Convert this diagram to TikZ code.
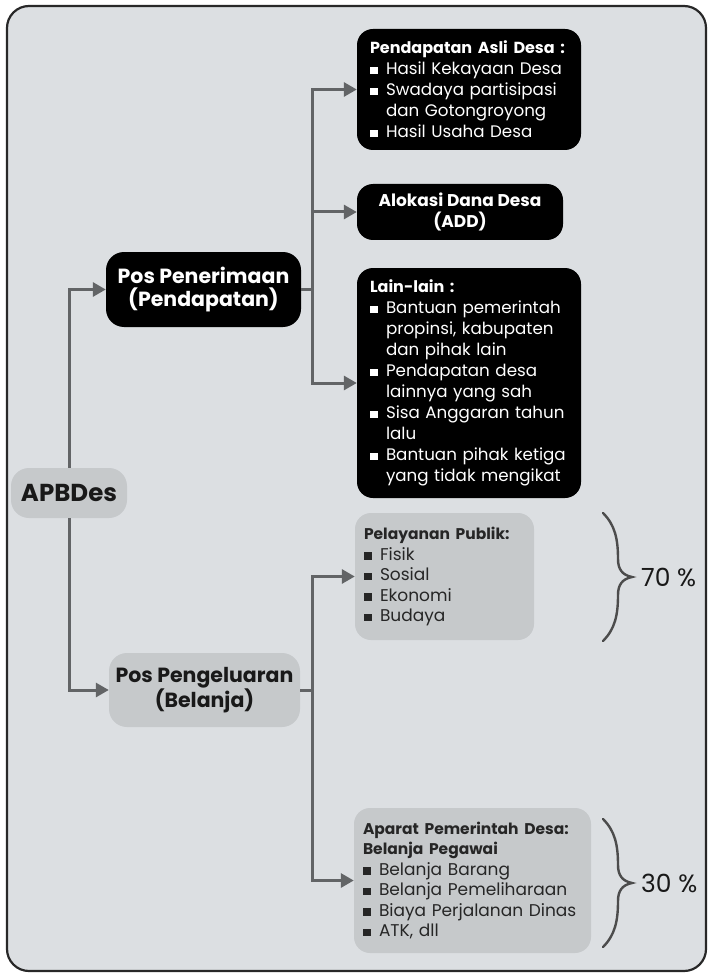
\documentclass[tikz,border=0pt]{standalone}
\usepackage{fontspec}
\setmainfont{Poppins}
\usetikzlibrary{arrows.meta, positioning}
\definecolor{cframe}{RGB}{220,223,226}
\definecolor{cbox}{RGB}{198,201,203}
\definecolor{carrow}{RGB}{98,100,102}
\definecolor{cedge}{RGB}{40,40,40}
\newcommand{\sq}{\makebox[16pt][l]{\rule[0.5pt]{7.5pt}{7.5pt}}}
\newcommand{\cont}{\hspace*{16pt}}
\newcommand{\hd}[2][15.5]{\textbf{\fontsize{#1}{21}\selectfont #2}}

\begin{document}
\begin{tikzpicture}[
  x=1pt, y=-1pt,
  darkbox/.style={fill=black, text=white, rounded corners=16pt,
    inner xsep=13pt, inner ysep=0pt, align=left,
    font=\fontsize{16.7}{21}\selectfont},
  greybox/.style={fill=cbox, text=black!85, rounded corners=16pt,
    inner xsep=9pt, inner ysep=0pt, align=left,
    font=\fontsize{17}{20.5}\selectfont},
  posbox/.style={rounded corners=18pt, align=center, inner sep=0pt,
    font=\bfseries\fontsize{20.5}{23}\selectfont},
  arr/.style={draw=carrow, line width=3pt, -{Triangle[length=13pt, width=14pt]}},
  ln/.style={draw=carrow, line width=3pt},
  braceline/.style={draw=black!70, line width=2.4pt, line cap=round},
  pct/.style={font=\fontsize{25}{27}\selectfont, text=black!90, inner sep=0pt},
  pics/curly/.style={code={
    \draw[braceline] (-29,-64) .. controls (-17,-52) and (-14,-38) .. (-14,-18)
      .. controls (-14,-8) and (-10,-2) .. (0,0)
      .. controls (-10,2) and (-14,8) .. (-14,18)
      .. controls (-14,38) and (-17,52) .. (-29,64);
  }},
]
\useasboundingbox[fill=white] (0,0) rectangle (709,976);
\draw[cedge, line width=2.2pt, fill=cframe, rounded corners=22pt]
  (7,6) rectangle (706,971);

% root and the two main posts
\node[posbox, fill=cbox, text=black!90, minimum width=116pt, minimum height=50pt,
  font=\bfseries\fontsize{24.5}{26}\selectfont] (apb) at (69,493) {APBDes};
\node[posbox, fill=black, text=white, minimum width=195pt, minimum height=75pt]
  (pen) at (203.5,289.5) {Pos Penerimaan\\(Pendapatan)};
\node[posbox, fill=cbox, text=black!90, minimum width=191pt, minimum height=74pt]
  (pel) at (204.5,690) {Pos Pengeluaran\\(Belanja)};

% income
\node[darkbox, minimum width=224pt, minimum height=121pt, text width=198pt]
  (pad) at (469,89.5)
  {\hd[16]{Pendapatan Asli Desa~:}\\
   \sq Hasil Kekayaan Desa\\
   \sq Swadaya partisipasi\\
   \cont dan Gotongroyong\\
   \sq Hasil Usaha Desa};
\node[darkbox, align=center, minimum width=206pt, minimum height=56pt,
  font=\bfseries\fontsize{17}{21}\selectfont]
  (add) at (460,212) {Alokasi Dana Desa\\(ADD)};
\node[darkbox, minimum width=224pt, minimum height=230pt, text width=198pt]
  (lain) at (469,383)
  {\hd[16]{Lain-lain~:}\\
   \sq Bantuan pemerintah\\
   \cont propinsi, kabupaten\\
   \cont dan pihak lain\\
   \sq Pendapatan desa\\
   \cont lainnya yang sah\\
   \sq Sisa Anggaran tahun\\
   \cont lalu\\
   \sq Bantuan pihak ketiga\\
   \cont yang tidak mengikat};

% spending
\node[greybox, minimum width=179pt, minimum height=127pt, text width=161pt]
  (pub) at (444.5,576.5)
  {\hd{Pelayanan Publik:}\\
   \sq Fisik\\
   \sq Sosial\\
   \sq Ekonomi\\
   \sq Budaya};
\node[greybox, minimum width=235pt, minimum height=145pt, text width=219pt]
  (apa) at (472.5,880.5)
  {\hd{Aparat Pemerintah Desa:}\\
   \hd{Belanja Pegawai}\\
   \sq Belanja Barang\\
   \sq Belanja Pemeliharaan\\
   \sq Biaya Perjalanan Dinas\\
   \sq ATK, dll};

% connectors
\draw[arr] (apb.north) |- (pen.west);
\draw[arr] (apb.south) |- (pel.west);
\coordinate (jt) at ([xshift=11pt]pen.east);
\draw[ln] (pen.east) -- (jt);
\draw[arr] (jt) |- (pad.west);
\draw[arr] (jt) |- (add.west);
\draw[arr] (jt) |- (lain.west);
\coordinate (jb) at ([xshift=12pt]pel.east);
\draw[ln] (pel.east) -- (jb);
\draw[arr] (jb) |- (pub.west);
\draw[arr] (jb) |- (apa.west);

% shares
\coordinate (t70) at (632,577);
\coordinate (t30) at (632,883);
\pic at (t70) {curly};
\pic at (t30) {curly};
\node[pct, right=9pt of t70] (p70) {70 \%};
\node[pct, right=9pt of t30] (p30) {30 \%};
\end{tikzpicture}
\end{document}
